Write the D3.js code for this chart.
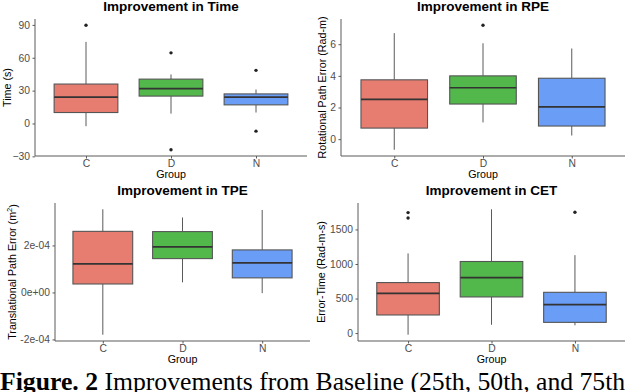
<!DOCTYPE html>
<html>
<head>
<meta charset="utf-8">
<title>Improvements</title>
<style>
  body { margin: 0; background: #fff; }
  svg { display: block; }
  .tick text { font-family: "Liberation Sans", Arial, sans-serif; font-size: 10.3px; fill: #4d4d4d; }
  .domain, .tick line { stroke: #5a5a5a; }
</style>
</head>
<body>
<div id="vis"></div>
<script src="https://d3js.org/d3.v7.min.js"></script>
<script>
// groups and colours
var groups = ["C", "D", "N"];
var groupColors = ["#e77d70", "#53b84b", "#6a9df6"];

// five-number summaries per group: [lower whisker, Q1, median, Q3, upper whisker]
var timeBoxes = [[-2.5, 10, 24, 36, 74.5], [9, 25, 31.8, 40.5, 44.8], [10, 17, 24, 27, 31]];
var timeOutliers = [[89.7], [64.5, -24], [48.5, -7]];
var timeTicks = [-30, 0, 30, 60, 90];

var rpeBoxes = [[-0.67, 0.7, 2.52, 3.75, 6.7], [1.06, 2.22, 3.25, 4.0, 6.06], [0.23, 0.83, 2.04, 3.85, 5.73]];
var rpeOutliers = [[], [7.2], []];
var rpeTicks = [0, 2, 4, 6];

var tpeBoxes = [[-1.8e-4, 0.36e-4, 1.22e-4, 2.6e-4, 3.54e-4], [0.43e-4, 1.44e-4, 1.94e-4, 2.59e-4, 3.19e-4], [-0.03e-4, 0.62e-4, 1.26e-4, 1.81e-4, 3.51e-4]];
var tpeOutliers = [[], [], []];
var tpeTicks = [-2e-4, 0, 2e-4];
var tpeTickLabels = ["-2e-04", "0e+00", "2e-04"];

var cetBoxes = [[-24, 262, 576, 731, 1153], [120, 523, 804, 1036, 1792], [112, 155, 411, 590, 1128]];
var cetOutliers = [[1744, 1666], [], [1748]];
var cetTicks = [0, 500, 1000, 1500];

var W = 628, H = 392;
var svg = d3.select("#vis").append("svg").attr("width", W).attr("height", H);

var panels = [
  {title: "Improvement in Time", ylab: ["Time (s)"], boxes: timeBoxes, outs: timeOutliers, ticks: timeTicks,
   left: 35, right: 307, top: 19, bottom: 156, ylabX: 7.5},
  {title: "Improvement in RPE", ylab: ["Rotational Path Error (Rad-m)"], boxes: rpeBoxes, outs: rpeOutliers, ticks: rpeTicks,
   left: 341, right: 625, top: 19, bottom: 156, ylabX: 322.5},
  {title: "Improvement in TPE", ylab: ["Translational Path Error (m", "2", ")"], boxes: tpeBoxes, outs: tpeOutliers, ticks: tpeTicks,
   tickLabels: tpeTickLabels, left: 55, right: 310, top: 203, bottom: 341, ylabX: 12},
  {title: "Improvement in CET", ylab: ["Error-Time (Rad-m-s)"], boxes: cetBoxes, outs: cetOutliers, ticks: cetTicks,
   left: 358, right: 625, top: 203, bottom: 341, ylabX: 321.5}
];

panels.forEach(function(p) {
  var all = [];
  p.boxes.forEach(function(b) { all = all.concat(b); });
  p.outs.forEach(function(o) { all = all.concat(o); });
  var lo = d3.min(all), hi = d3.max(all), pad = (hi - lo) * 0.05;

  var y = d3.scaleLinear().domain([lo - pad, hi + pad]).range([p.bottom, p.top]);
  var x = d3.scalePoint().domain(groups).range([p.left, p.right]).padding(0.6);
  var bw = x.step() * 0.75;

  var g = svg.append("g");

  // boxes
  groups.forEach(function(grp, i) {
    var b = p.boxes[i], cx = x(grp);
    g.append("line").attr("x1", cx).attr("x2", cx).attr("y1", y(b[0])).attr("y2", y(b[1]))
      .attr("stroke", "#5a5a5a").attr("stroke-width", 1);
    g.append("line").attr("x1", cx).attr("x2", cx).attr("y1", y(b[3])).attr("y2", y(b[4]))
      .attr("stroke", "#5a5a5a").attr("stroke-width", 1);
    g.append("rect").attr("x", cx - bw / 2).attr("width", bw)
      .attr("y", y(b[3])).attr("height", y(b[1]) - y(b[3]))
      .attr("fill", groupColors[i]).attr("stroke", "#555").attr("stroke-width", 1.1);
    g.append("line").attr("x1", cx - bw / 2).attr("x2", cx + bw / 2).attr("y1", y(b[2])).attr("y2", y(b[2]))
      .attr("stroke", "#333").attr("stroke-width", 1.7);
    p.outs[i].forEach(function(v) {
      g.append("circle").attr("cx", cx).attr("cy", y(v)).attr("r", 1.7).attr("fill", "#222");
    });
  });

  // axes
  var ya = d3.axisLeft(y).tickValues(p.ticks).tickSize(2.5).tickPadding(2.5);
  if (p.tickLabels) ya.tickFormat(function(d, i) { return p.tickLabels[i]; });
  else ya.tickFormat(d3.format("d"));
  var yg = g.append("g").attr("transform", "translate(" + p.left + ",0)").call(ya);
  yg.select(".domain").attr("d", "M0," + p.bottom + "V" + p.top);

  var xa = d3.axisBottom(x).tickSize(2.5).tickPadding(1.5);
  var xg = g.append("g").attr("transform", "translate(0," + p.bottom + ")").call(xa);
  xg.select(".domain").attr("d", "M" + p.left + ",0H" + p.right);

  // titles
  g.append("text").attr("x", (p.left + p.right) / 2).attr("y", p.top - 7.6)
    .attr("text-anchor", "middle").style("font-family", "Liberation Sans, Arial, sans-serif")
    .style("font-weight", "bold").style("font-size", "13.5px").text(p.title);

  g.append("text").attr("x", (p.left + p.right) / 2).attr("y", p.bottom + 22.4)
    .attr("text-anchor", "middle").style("font-family", "Liberation Sans, Arial, sans-serif")
    .style("font-size", "10.7px").text("Group");

  var yl = g.append("text")
    .attr("transform", "translate(" + p.ylabX + "," + (p.top + p.bottom) / 2 + ") rotate(-90)")
    .attr("dy", "0.35em").attr("text-anchor", "middle")
    .style("font-family", "Liberation Sans, Arial, sans-serif").style("font-size", "10.7px");
  if (p.ylab.length === 1) {
    yl.text(p.ylab[0]);
  } else {
    yl.append("tspan").text(p.ylab[0]);
    yl.append("tspan").attr("dy", "-0.45em").style("font-size", "7.5px").text(p.ylab[1]);
    yl.append("tspan").attr("dy", "0.45em").text(p.ylab[2]);
  }
});

// caption
var cap = svg.append("text").attr("x", 0).attr("y", 390)
  .style("font-family", "Liberation Serif, Times New Roman, serif").style("font-size", "25.7px");
cap.append("tspan").style("font-weight", "bold").text("Figure. 2");
cap.append("tspan").text(" Improvements from Baseline (25th, 50th, and 75th");
</script>
</body>
</html>
